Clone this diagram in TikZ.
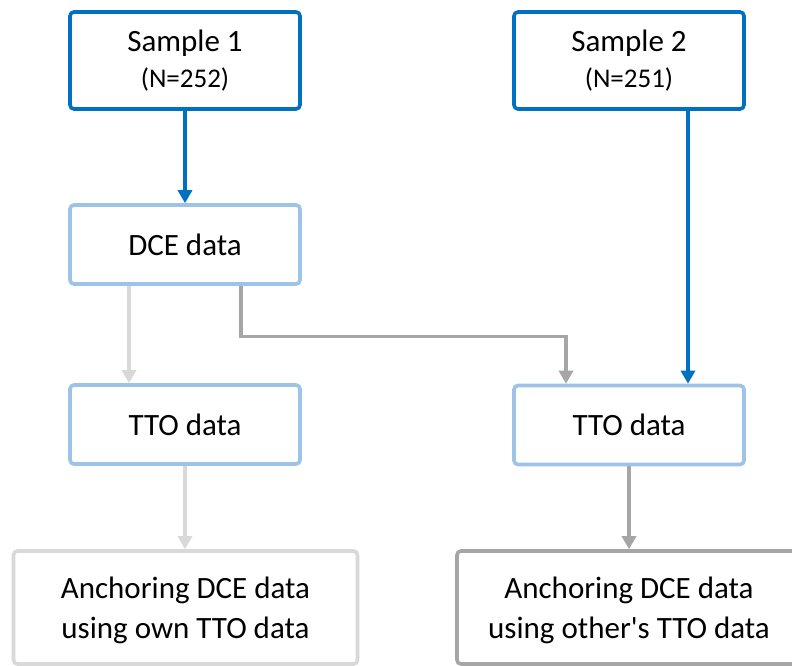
\documentclass[tikz,border=0pt]{standalone}
\usepackage{fontspec}
\setmainfont{Carlito}
\usetikzlibrary{arrows.meta}
\definecolor{dblue}{HTML}{0070C0}
\definecolor{lblue}{HTML}{9DC3E6}
\definecolor{lgray}{HTML}{D9D9D9}
\definecolor{mgray}{HTML}{A6A6A6}
\tikzset{
  box/.style={draw, line width=3.6pt, rounded corners=4pt, fill=white, align=center,
    font=\fontsize{31}{40}\selectfont, inner sep=0pt},
  topbox/.style={box, draw=dblue, minimum width=230pt, minimum height=97pt},
  midbox/.style={box, draw=lblue, minimum width=230pt, minimum height=79pt},
  endbox/.style={box, minimum width=344pt, minimum height=113pt},
  conn/.style={line width=3.2pt, -{Triangle[length=13pt,width=14pt]}},
}
\begin{document}
\begin{tikzpicture}[x=1pt,y=-1pt]
\clip (0,0) rectangle (792,666);
\fill[white] (0,0) rectangle (792,666);
\node[topbox] (s1) at (185,60.5) {Sample 1\\[-4pt]{\fontsize{27}{32}\selectfont (N=252)}};
\node[topbox] (s2) at (629,60.5) {Sample 2\\[-4pt]{\fontsize{27}{32}\selectfont (N=251)}};
\node[midbox] (dce) at (185,244.5) {DCE data};
\node[midbox] (ttol) at (185,424.5) {TTO data};
\node[midbox] (ttor) at (629,425) {TTO data};
\node[endbox, draw=lgray, text depth=-3pt] (al) at (185.5,607.5) {Anchoring DCE data\\using own TTO data};
\node[endbox, draw=mgray, text depth=-3pt] (ar) at (629,607.5) {Anchoring DCE data\\using other\textquotesingle s TTO data};
\draw[conn, dblue] (s1.south) -- (dce.north);
\draw[conn, dblue] ([xshift=59pt]s2.south) -- ([xshift=59pt]ttor.north);
\draw[conn, lgray] ([xshift=-56pt]dce.south) -- ([xshift=-56pt]ttol.north);
\draw[conn, mgray] ([xshift=56pt]dce.south) -- ++(0,51) -| ([xshift=-63pt]ttor.north);
\draw[conn, lgray] (ttol.south) -- (al.north -| ttol.south);
\draw[conn, mgray] (ttor.south) -- (ar.north -| ttor.south);
\end{tikzpicture}
\end{document}
